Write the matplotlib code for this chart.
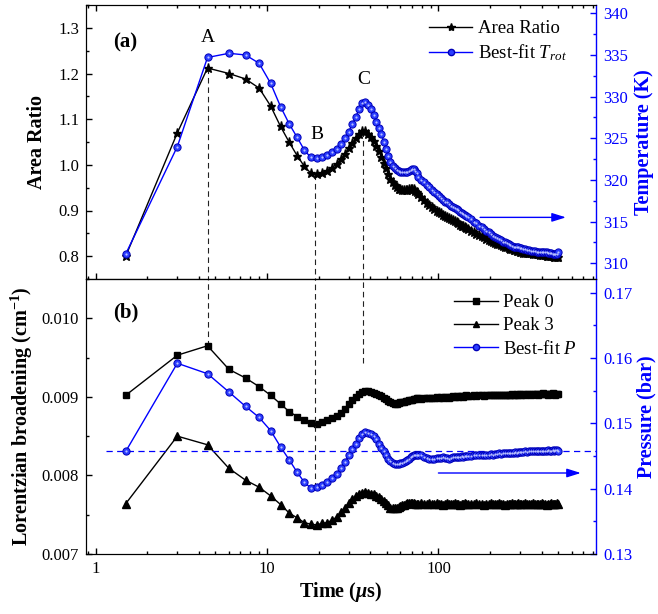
import numpy as np
import matplotlib
matplotlib.use('Agg')
import matplotlib.pyplot as plt
from matplotlib.ticker import MultipleLocator, LogLocator, NullFormatter, FormatStrFormatter
from matplotlib.lines import Line2D

plt.rcParams['font.family'] = ['Liberation Serif', 'DejaVu Serif']
plt.rcParams['mathtext.fontset'] = 'custom'
plt.rcParams['mathtext.rm'] = 'Liberation Serif'
plt.rcParams['mathtext.it'] = 'Liberation Serif:italic'
plt.rcParams['mathtext.bf'] = 'Liberation Serif:bold'
plt.rcParams['mathtext.bfit'] = 'Liberation Serif:italic:bold'

# ---------------- data ----------------
time_us = [1.5, 3.0, 4.5, 6.0, 7.5, 9.0, 10.5, 12.0, 13.5, 15.0, 16.5, 18.0, 19.5, 21.0, 22.5,
           24.0, 25.5, 27.0, 28.5, 30.0, 31.5, 33.0, 34.5, 36.0, 37.5, 39.0, 40.5, 42.0, 43.5,
           45.0, 46.5, 48.0, 49.5, 51.0, 52.5, 54.0, 55.5, 57.0, 58.5, 60.0, 61.5, 63.0, 64.5,
           66.0, 67.5, 69.0, 70.5, 72.0, 73.5, 75.0,
           76.5, 79.5, 82.5, 85.5, 88.5, 91.5, 94.5, 97.5, 100.5, 103.5, 106.5, 109.5, 112.5,
           115.5, 118.5, 121.5, 124.5, 127.5, 130.5, 133.5, 136.5, 139.5, 142.5, 145.5, 148.5,
           154.5, 160.5, 166.5, 172.5, 178.5, 184.5, 190.5, 196.5, 202.5, 208.5, 214.5, 220.5,
           226.5, 232.5, 238.5, 244.5, 250.5, 256.5, 262.5, 268.5, 274.5, 280.5, 286.5, 292.5,
           298.5, 304.5,
           310.5, 319.5, 328.5, 337.5, 346.5, 355.5, 364.5, 373.5, 382.5, 391.5, 400.5, 409.5,
           418.5, 427.5, 436.5, 445.5, 454.5, 463.5, 472.5, 481.5, 490.5, 499.5]

area_ratio = [0.800, 1.070, 1.212, 1.200, 1.188, 1.168, 1.129, 1.084, 1.049, 1.020,
              0.997, 0.982, 0.980, 0.982, 0.987, 0.994, 1.002, 1.012, 1.024, 1.036,
              1.047, 1.058, 1.068, 1.075, 1.074, 1.068, 1.061, 1.053, 1.042, 1.031,
              1.018, 1.005, 0.992, 0.980, 0.970, 0.962, 0.956, 0.951, 0.948, 0.946,
              0.945, 0.945, 0.945, 0.945, 0.946, 0.947, 0.947, 0.946, 0.943, 0.940,
              0.936, 0.929, 0.922, 0.916, 0.911, 0.907, 0.903, 0.900, 0.897, 0.894,
              0.891, 0.888, 0.886, 0.884, 0.881, 0.879, 0.876, 0.874, 0.872, 0.869,
              0.867, 0.865, 0.863, 0.861, 0.859,
              0.856, 0.853, 0.849, 0.846, 0.844, 0.841, 0.838, 0.836, 0.833, 0.831,
              0.829, 0.827, 0.826, 0.824, 0.822, 0.821, 0.820, 0.818, 0.816, 0.815,
              0.814, 0.813, 0.812, 0.811, 0.810, 0.809,
              0.808, 0.808, 0.807, 0.806, 0.806, 0.805, 0.805, 0.804, 0.804, 0.803,
              0.803, 0.802, 0.802, 0.801, 0.801, 0.800, 0.800, 0.800, 0.799, 0.799,
              0.799, 0.799]

temperature_K = [311.1, 324.0, 334.7, 335.2, 335.0, 334.0, 331.6, 328.8, 326.7, 325.1,
                 323.6, 322.7, 322.6, 322.8, 323.0, 323.3, 323.7, 324.3, 325.0, 325.8,
                 326.7, 327.6, 328.5, 329.2, 329.3, 329.0, 328.5, 327.8, 327.0, 326.2,
                 325.5, 324.6, 323.7, 322.9, 322.2, 321.7, 321.4, 321.2, 321.1, 321.0,
                 320.9, 320.9, 321.0, 321.0, 321.1, 321.2, 321.3, 321.3, 321.1, 320.8,
                 320.4, 320.0, 319.7, 319.4, 319.1, 318.8, 318.5, 318.3, 318.1, 317.8,
                 317.6, 317.4, 317.3, 317.1, 316.9, 316.8, 316.6, 316.5, 316.4, 316.2,
                 316.0, 315.9, 315.8, 315.7, 315.6,
                 315.3, 315.0, 314.8, 314.5, 314.3, 314.1, 313.9, 313.7, 313.5, 313.3,
                 313.2, 313.0, 312.9, 312.8, 312.6, 312.5, 312.4, 312.3, 312.2, 312.1,
                 312.0, 312.0, 311.9, 311.9, 311.8, 311.8,
                 311.7, 311.7, 311.6, 311.6, 311.5, 311.5, 311.5, 311.4, 311.4, 311.4,
                 311.3, 311.3, 311.3, 311.3, 311.2, 311.2, 311.2, 311.1, 311.1, 311.1,
                 311.1, 311.4]

peak0_cm = [0.00902, 0.00953, 0.00965, 0.00935, 0.00924, 0.00913, 0.00902, 0.00891, 0.00881, 0.00875,
            0.00870, 0.00867, 0.00866, 0.00868, 0.00870, 0.00873, 0.00876, 0.00880, 0.00885, 0.00891,
            0.00896, 0.00900, 0.00904, 0.00906, 0.00907, 0.00907, 0.00906, 0.00905, 0.00904, 0.00902,
            0.00901, 0.00899, 0.00897, 0.00895, 0.00893, 0.00892, 0.00891, 0.00891, 0.00892, 0.00893,
            0.00893, 0.00894, 0.00895, 0.00895, 0.00896, 0.00896, 0.00896, 0.00897, 0.00897, 0.00898,
            0.00898, 0.00897, 0.00899, 0.00898, 0.00899, 0.00898, 0.00899, 0.00900, 0.00899, 0.00900,
            0.00899, 0.00900, 0.00900, 0.00899, 0.00900, 0.00901, 0.00900, 0.00901, 0.00900, 0.00901,
            0.00901, 0.00900, 0.00901, 0.00902, 0.00901,
            0.00901, 0.00902, 0.00901, 0.00902, 0.00902, 0.00901, 0.00902, 0.00903, 0.00902, 0.00902,
            0.00903, 0.00902, 0.00903, 0.00902, 0.00903, 0.00903, 0.00902, 0.00903, 0.00903, 0.00904,
            0.00903, 0.00903, 0.00904, 0.00903, 0.00904, 0.00903,
            0.00904, 0.00903, 0.00904, 0.00904, 0.00903, 0.00904, 0.00904, 0.00904, 0.00903, 0.00904,
            0.00904, 0.00905, 0.00904, 0.00904, 0.00903, 0.00904, 0.00904, 0.00905, 0.00904, 0.00903,
            0.00904, 0.00904]

peak3_cm = [0.00764, 0.00850, 0.00839, 0.00809, 0.00794, 0.00785, 0.00774, 0.00763, 0.00752, 0.00746,
            0.00740, 0.00738, 0.00737, 0.00739, 0.00740, 0.00743, 0.00747, 0.00753, 0.00759, 0.00765,
            0.00770, 0.00774, 0.00777, 0.00778, 0.00779, 0.00778, 0.00777, 0.00776, 0.00774, 0.00772,
            0.00770, 0.00768, 0.00765, 0.00762, 0.00759, 0.00758, 0.00758, 0.00759, 0.00760, 0.00761,
            0.00762, 0.00763, 0.00764, 0.00765, 0.00765, 0.00765, 0.00765, 0.00765, 0.00764, 0.00764,
            0.00764, 0.00765, 0.00764, 0.00764, 0.00765, 0.00764, 0.00764, 0.00765, 0.00764, 0.00764,
            0.00763, 0.00764, 0.00765, 0.00764, 0.00764, 0.00764, 0.00765, 0.00764, 0.00764, 0.00763,
            0.00764, 0.00764, 0.00765, 0.00764, 0.00764,
            0.00764, 0.00764, 0.00765, 0.00764, 0.00764, 0.00763, 0.00764, 0.00764, 0.00765, 0.00764,
            0.00764, 0.00764, 0.00765, 0.00764, 0.00764, 0.00763, 0.00764, 0.00764, 0.00764, 0.00765,
            0.00764, 0.00764, 0.00764, 0.00765, 0.00764, 0.00764,
            0.00764, 0.00765, 0.00764, 0.00764, 0.00764, 0.00765, 0.00764, 0.00764, 0.00764, 0.00764,
            0.00765, 0.00764, 0.00764, 0.00763, 0.00764, 0.00764, 0.00765, 0.00764, 0.00764, 0.00764,
            0.00765, 0.00764]

pressure_bar = [0.1457, 0.1592, 0.1576, 0.1548, 0.1526, 0.1509, 0.1489, 0.1464, 0.1444, 0.1425,
                0.1410, 0.1401, 0.1402, 0.1406, 0.1410, 0.1416, 0.1423, 0.1432, 0.1441, 0.1451,
                0.1460, 0.1469, 0.1477, 0.1484, 0.1487, 0.1486, 0.1484, 0.1481, 0.1476, 0.1469,
                0.1463, 0.1457, 0.1451, 0.1446, 0.1442, 0.1440, 0.1438, 0.1438, 0.1438, 0.1439,
                0.1440, 0.1441, 0.1443, 0.1444, 0.1446, 0.1448, 0.1450, 0.1451, 0.1452, 0.1452,
                0.1452, 0.1451, 0.1449, 0.1447, 0.1446, 0.1446, 0.1446, 0.1447, 0.1447, 0.1447,
                0.1448, 0.1447, 0.1447, 0.1446, 0.1447, 0.1448, 0.1448, 0.1449, 0.1449, 0.1449,
                0.1450, 0.1449, 0.1450, 0.1450, 0.1450,
                0.1450, 0.1451, 0.1451, 0.1451, 0.1452, 0.1451, 0.1452, 0.1452, 0.1453, 0.1452,
                0.1453, 0.1453, 0.1454, 0.1453, 0.1454, 0.1454, 0.1455, 0.1454, 0.1455, 0.1455,
                0.1455, 0.1456, 0.1455, 0.1456, 0.1456, 0.1456,
                0.1456, 0.1457, 0.1456, 0.1457, 0.1457, 0.1457, 0.1458, 0.1457, 0.1458, 0.1458,
                0.1457, 0.1458, 0.1458, 0.1458, 0.1459, 0.1458, 0.1458, 0.1459, 0.1458, 0.1459,
                0.1459, 0.1458]

event_labels = ['A', 'B', 'C']
event_times = [4.5, 19.0, 36.5]
event_area = [1.212, 0.981, 1.075]
pressure_ref = 0.1457

# ---------------- figure ----------------
BLUE = '#0000ff'
BALL_FACE = '#2b3dff'
BALL_EDGE = '#0000b8'
HILITE = '#b8c0ff'

fig = plt.figure(figsize=(6.58, 6.14), dpi=100)
L, W = 86 / 658, (596 - 86) / 658
ax1 = fig.add_axes([L, 1 - 279 / 614, W, 274 / 614])
ax2 = fig.add_axes([L, 1 - 554 / 614, W, 275 / 614])
ax1r = ax1.twinx()
ax2r = ax2.twinx()

t = np.array(time_us)

# top panel
ax1.plot(t, area_ratio, color='black', lw=1.0, marker='*', ms=6.5, mfc='black', mec='black', zorder=3)
ax1r.plot(t, temperature_K, color=BLUE, lw=1.0, marker='o', ms=5.2, mfc=BALL_FACE, mec=BALL_EDGE, mew=0.7, zorder=3)
ax1r.plot(t, temperature_K, ls='none', marker='o', ms=1.6, mfc=HILITE, mec='none', zorder=4)

# bottom panel
ax2.plot(t, peak0_cm, color='black', lw=1.0, marker='s', ms=4.6, mfc='black', mec='black', zorder=3)
ax2.plot(t, peak3_cm, color='black', lw=1.0, marker='^', ms=5.4, mfc='black', mec='black', zorder=3)
ax2r.plot(t, pressure_bar, color=BLUE, lw=1.0, marker='o', ms=5.2, mfc=BALL_FACE, mec=BALL_EDGE, mew=0.7, zorder=3)
ax2r.plot(t, pressure_bar, ls='none', marker='o', ms=1.6, mfc=HILITE, mec='none', zorder=4)

# limits
xlim = (0.88, 830)
ax1.set_xscale('log'); ax2.set_xscale('log')
for a in (ax1, ax2, ax1r, ax2r):
    a.set_xlim(*xlim)
ax1.set_ylim(0.75, 1.35)
ax1r.set_ylim(308.1, 341.0)
ax2.set_ylim(0.007, 0.0105)
ax2r.set_ylim(0.13, 0.1721)

# dashed guide lines
dash = dict(color='#222222', lw=0.8, ls=(0, (5, 3.5)), zorder=2)
lo1, hi1 = ax1.get_ylim()
for tt, ya in zip(event_times, event_area):
    ax1.plot([tt, tt], [ya, lo1], **dash)
ax2.plot([event_times[0]] * 2, [max(peak0_cm), 0.0105], **dash)
ax2r.plot([event_times[1]] * 2, [min(pressure_bar), 0.1721], **dash)
ax2r.plot([event_times[2]] * 2, [max(pressure_bar), 0.1721], **dash)

ax2r.plot([1.15, xlim[1]], [pressure_ref, pressure_ref], color=BLUE, lw=0.9, ls=(0, (5, 3.5)), zorder=2)

# event letters
ax1.text(4.5, 1.279, 'A', fontsize=14, ha='center', va='center')
ax1.text(19.6, 1.066, 'B', fontsize=14, ha='center', va='center')
ax1.text(36.7, 1.187, 'C', fontsize=14, ha='center', va='center')

ax1.text(0.053, 0.865, '(a)', transform=ax1.transAxes, fontsize=15, fontweight='bold', ha='left', va='center')
ax2.text(0.053, 0.88, '(b)', transform=ax2.transAxes, fontsize=15, fontweight='bold', ha='left', va='center')

# arrows
arrow = dict(arrowstyle='-|>,head_length=0.7,head_width=0.22', color=BLUE, lw=1.0,
             shrinkA=0, shrinkB=0, mutation_scale=12)
ax1r.annotate('', xy=(554, 315.5), xytext=(175, 315.5), arrowprops=arrow)
ax2r.annotate('', xy=(677, 0.1424), xytext=(100, 0.1424), arrowprops=arrow)

# ticks
maj, mnr = 4.2, 2.3
for a in (ax1, ax2):
    a.xaxis.set_major_locator(LogLocator(base=10, numticks=10))
    a.xaxis.set_minor_locator(LogLocator(base=10, subs=np.arange(2, 10), numticks=20))
    a.xaxis.set_minor_formatter(NullFormatter())
ax1.tick_params(axis='x', which='both', direction='in', top=True, bottom=True, labelbottom=False)
ax2.tick_params(axis='x', which='both', direction='in', top=False, bottom=True, labelsize=12, pad=5)
ax2.set_xticks([1, 10, 100])
ax2.set_xticklabels(['1', '10', '100'])
for a in (ax1, ax2):
    a.tick_params(axis='x', which='major', length=maj, width=1)
    a.tick_params(axis='x', which='minor', length=mnr, width=1)
    a.tick_params(axis='y', which='both', direction='in', right=False, labelsize=12, pad=5, width=1)
    a.tick_params(axis='y', which='major', length=maj)
    a.tick_params(axis='y', which='minor', length=mnr)
for a in (ax1r, ax2r):
    a.tick_params(axis='y', which='both', direction='in', colors=BLUE, labelcolor=BLUE,
                  labelsize=12, pad=5, width=1)
    a.tick_params(axis='y', which='major', length=maj)
    a.tick_params(axis='y', which='minor', length=mnr)
    a.tick_params(axis='x', which='both', top=False, bottom=False, labeltop=False, labelbottom=False)
    a.spines['right'].set_color(BLUE)
    a.spines['right'].set_linewidth(1.0)
for a in (ax1, ax2):
    a.spines['right'].set_visible(False)

ax1.yaxis.set_major_locator(MultipleLocator(0.1))
ax1.yaxis.set_minor_locator(MultipleLocator(0.05))
ax1.yaxis.set_major_formatter(FormatStrFormatter('%.1f'))
ax1r.yaxis.set_major_locator(MultipleLocator(5))
ax1r.yaxis.set_minor_locator(MultipleLocator(2.5))
ax2.yaxis.set_major_locator(MultipleLocator(0.001))
ax2.yaxis.set_minor_locator(MultipleLocator(0.0005))
ax2.yaxis.set_major_formatter(FormatStrFormatter('%.3f'))
ax2r.yaxis.set_major_locator(MultipleLocator(0.01))
ax2r.yaxis.set_minor_locator(MultipleLocator(0.005))
ax2r.yaxis.set_major_formatter(FormatStrFormatter('%.2f'))

# labels
ax1.set_ylabel('Area Ratio', fontsize=14.5, fontweight='bold', labelpad=8)
ax2.set_ylabel(r'Lorentzian broadening (cm$^{\mathbf{-1}}$)', fontsize=14.5, fontweight='bold', labelpad=5)
ax1r.set_ylabel('Temperature (K)', fontsize=14.5, fontweight='bold', color=BLUE, labelpad=4)
ax2r.set_ylabel('Pressure (bar)', fontsize=14.5, fontweight='bold', color=BLUE, labelpad=3)
ax2.set_xlabel(r'Time ($\boldsymbol{\mu}$s)', fontsize=14.5, fontweight='bold', labelpad=2)

# legends
h_ar = Line2D([], [], color='black', lw=1.0, marker='*', ms=6, mfc='black', mec='black')
h_t = Line2D([], [], color=BLUE, lw=1.0, marker='o', ms=4.5, mfc=BALL_FACE, mec=BALL_EDGE)
ax1r.legend([h_ar, h_t], ['Area Ratio', r'Best-fit $T_{rot}$'], loc='upper right',
            bbox_to_anchor=(0.965, 0.985), frameon=False, fontsize=13.5, handlelength=2.3,
            handletextpad=0.3, labelspacing=0.25, borderaxespad=0.2)
h_p0 = Line2D([], [], color='black', lw=1.0, marker='s', ms=4, mfc='black', mec='black')
h_p3 = Line2D([], [], color='black', lw=1.0, marker='^', ms=4.6, mfc='black', mec='black')
h_p = Line2D([], [], color=BLUE, lw=1.0, marker='o', ms=4.5, mfc=BALL_FACE, mec=BALL_EDGE)
ax2r.legend([h_p0, h_p3, h_p], ['Peak 0', 'Peak 3', r'Best-fit $P$'], loc='upper right',
            bbox_to_anchor=(0.985, 0.985), frameon=False, fontsize=13.5, handlelength=2.3,
            handletextpad=0.3, labelspacing=0.3, borderaxespad=0.2)

fig.savefig('out.png', dpi=100)
